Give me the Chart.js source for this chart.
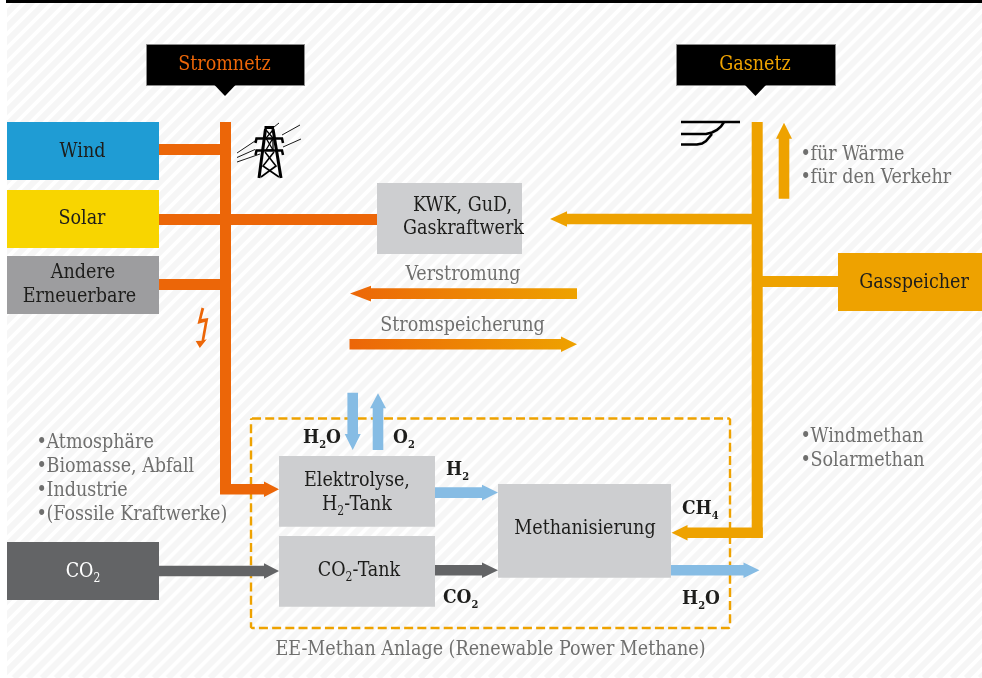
<!DOCTYPE html>
<html><head><meta charset="utf-8">
<style>html,body{margin:0;padding:0;background:#fff}canvas{display:block}</style>
<script src="https://cdn.jsdelivr.net/npm/chart.js@4"></script>
</head><body><canvas id="c" width="982" height="678"></canvas>
<script>
// Diagram values, in axis units of a 982 x 678 drawing plane
const sources = ['Wind','Solar','Andere','Erneuerbare','CO'];
const networks = ['Stromnetz','Gasnetz'];
const plant = ['KWK, GuD,','Gaskraftwerk','Verstromung','Stromspeicherung','Gasspeicher','Elektrolyse,','Methanisierung'];
const bulletsLeft = ['Atmosphäre','Biomasse, Abfall','Industrie','(Fossile Kraftwerke)'];
const bulletsGasUse = ['für Wärme','für den Verkehr'];
const bulletsMethane = ['Windmethan','Solarmethan'];
const plantCaption = 'EE-Methan Anlage (Renewable Power Methane)';

const ORANGE='#ec6608', AMBER='#eea200', BLUE='#86bce4', DARK='#636466', LIGHT='#cdced0';
const shapes=[];
function poly(pts,color,extra){shapes.push(Object.assign({data:pts.map(p=>({x:p[0],y:p[1]})),showLine:true,fill:'shape',backgroundColor:color,borderWidth:0,borderColor:'rgba(0,0,0,0)',pointRadius:0,tension:0,clip:false},extra||{}));}
function rect(a,b,c,d,color,extra){poly([[a,b],[c,b],[c,d],[a,d],[a,b]],color,extra);}
function stroke(pts,color,w,extra){shapes.push(Object.assign({data:pts.map(p=>({x:p[0],y:p[1]})),showLine:true,fill:false,borderColor:color,borderWidth:w,pointRadius:0,tension:0,clip:false,borderCapStyle:'butt',borderJoinStyle:'miter'},extra||{}));}
function arrowH(x0,x1,yc,headLen,color,halfS,halfH){const d=x1>x0?1:-1,b=x1-d*headLen;halfS=halfS||5.3;halfH=halfH||7.8;
 poly([[x0,yc-halfS],[b,yc-halfS],[b,yc-halfH],[x1,yc],[b,yc+halfH],[b,yc+halfS],[x0,yc+halfS],[x0,yc-halfS]],color);}
function arrowV(xc,y0,y1,headLen,color){const d=y1>y0?1:-1,b=y1-d*headLen,s=5.3,h=8;
 poly([[xc-s,y0],[xc+s,y0],[xc+s,b],[xc+h,b],[xc,y1],[xc-h,b],[xc-s,b],[xc-s,y0]],color);}
function gradH(a,b,c0,c1){return c=>{const g=c.chart.ctx.createLinearGradient(a,0,b,0);g.addColorStop(0,c0);g.addColorStop(1,c1);return g;};}

// top rule
rect(6,0,982,3,'#000');
// callouts
rect(146.5,44.5,304.5,85.5,'#000',{borderWidth:1,borderColor:'#8a8a8a'});
poly([[214.5,85],[235.5,85],[225,96],[214.5,85]],'#000');
rect(676.5,44.5,835.5,85.5,'#000',{borderWidth:1,borderColor:'#8a8a8a'});
poly([[745,85],[766,85],[755.5,96],[745,85]],'#000');
// dashed plant outline
stroke([[252,418.5],[729,418.5],[730,419.5],[730,627],[729,628],[252,628],[251,627],[251,419.5],[252,418.5]],AMBER,2.4,{borderDash:[9,4.2],borderJoinStyle:'round'});
// source boxes
rect(7,122,159,180,'#1f9cd4');
rect(7,190,159,248,'#f8d500');
rect(7,256,159,314,'#9d9d9f');
rect(7,542,159,600,DARK);
// orange grid
rect(220,122,231,490,ORANGE);
arrowH(220,279,489.2,15,ORANGE);
rect(159,144,220,155,ORANGE);
rect(159,214,377,225,ORANGE);
rect(159,279,220,290,ORANGE);
// gas grid
rect(751.7,122,762.7,538,AMBER);
arrowH(752,550,219,17,AMBER);
rect(762,276,838,287,AMBER);
arrowH(762.7,671.5,532.7,16,AMBER);
arrowV(784,198.7,122.7,16,AMBER);
// boxes
rect(377,183,522,254,LIGHT);
rect(838,253,982,311,AMBER);
rect(279,456,435,526.7,LIGHT);
rect(279,536,435,606.7,LIGHT);
rect(498,484,671,577.7,LIGHT);
// gradient arrows
arrowH(577,350,293.6,21,gradH(350,577,ORANGE,AMBER));
arrowH(349.5,577,344.3,16,gradH(350,577,ORANGE,AMBER));
// water, gases
arrowV(352.7,392.7,450,16,BLUE);
arrowV(378,450,393.3,15,BLUE);
arrowH(435,498,492.6,16,BLUE);
arrowH(435,498,570.3,16,DARK);
arrowH(159,279,571,15,DARK);
arrowH(671,759.5,570.3,16,BLUE);
// bolt
poly([[201.5,307.5],[204.2,308.5],[201.5,319],[208.3,318],[204.3,340],[206.8,339.3],[199.8,348],[195.7,341],[201.5,340.8],[204.8,322],[197.5,324],[201.5,307.5]],ORANGE);
// pylon
const K='#000';
stroke([[259,178],[265.5,129]],K,3);stroke([[281,178],[273,129]],K,3);
stroke([[264.5,127.5],[274,127.5]],K,3);
stroke([[255.5,143],[256.5,138.5],[282,138.5],[283,143]],K,2.5);
stroke([[255.5,155],[256.5,150.5],[282,150.5],[283,155]],K,2.5);
stroke([[266,130],[273,138],[266,150],[273,150],[273,138],[266,130]],K,1.3);
stroke([[273,130],[266,138],[273,150]],K,1.3);
stroke([[265,152],[276,166],[261,177]],K,1.6);stroke([[274,152],[263,166],[279,177]],K,1.6);
stroke([[237,153],[255,141]],K,.9);stroke([[237,157.5],[255,149.5]],K,.9);stroke([[237,162],[260,154]],K,.9);
stroke([[282,135],[300,125]],K,.9);stroke([[283,147],[301,139]],K,.9);stroke([[274,127],[279,123]],K,.9);
// pipeline junction
stroke([[681,122],[740,122]],K,2.6);
stroke([[681,134],[706,134],[712,132.5],[717,130],[721,126.5],[724,122]],K,2.6);
stroke([[681,144.5],[697,144.5],[702,143.5],[706,141],[709,137.5],[712,134]],K,2.6);

shapes.forEach((s,i)=>{s.order=-i;});

const SERIF='"DejaVu Serif Condensed","DejaVu Serif",serif';
const INK='#1d1d1b', GREY='#6f6f6e';
const labels=[];
const S=19.5, B=19;
function T(runs,x,y,size,color,align,weight){labels.push({runs:Array.isArray(runs)?runs:[[runs,0]],x,y:y+0.8,size,color,align:align||'center',weight:weight||'normal'});}
T(networks[0],224.5,64,S,ORANGE);T(networks[1],755,64,S,AMBER);
T(sources[0],82.5,151,S,INK);T(sources[1],82,218,S,INK);
T(sources[2],83,272,S,INK);T(sources[3],79.5,296,S,INK);
T([[sources[4],0],['2',1]],83,571,S,'#fff');
T(plant[0],462.5,205.5,S,INK);T(plant[1],463.5,228.5,S,INK);
T(plant[2],463,274,S,GREY);T(plant[3],462.5,325,S,GREY);
T(plant[4],914,282.5,S,INK,'center');
T(plant[5],357,480,S,INK);T([['H',0],['2',1],['-Tank',0]],357,504,S,INK);
T([['CO',0],['2',1],['-Tank',0]],359,570,S,INK);
T(plant[6],585,528,S,INK);
T([['H',0],['2',1],['O',0]],303,437,B,INK,'left','bold');
T([['O',0],['2',1]],393,437,B,INK,'left','bold');
T([['H',0],['2',1]],446,469,B,INK,'left','bold');
T([['CO',0],['2',1]],443,597,B,INK,'left','bold');
T([['CH',0],['4',1]],682,508,B,INK,'left','bold');
T([['H',0],['2',1],['O',0]],682,598,B,INK,'left','bold');
T(plantCaption,490.5,649.5,S,GREY);
function bullets(list,x,y0,step){list.forEach((t,i)=>{T('•',x,y0+i*step,S,GREY,'left');T(t,x+10,y0+i*step,S,GREY,'left');});}
bullets(bulletsLeft,36.5,442,24);
bullets(bulletsGasUse,800.5,154,23.5);
bullets(bulletsMethane,800.5,436,24);

const hatch={id:'hatch',beforeDraw(chart){const {ctx}=chart,xs=chart.scales.x,ys=chart.scales.y;
 const x0=xs.getPixelForValue(7),y0=ys.getPixelForValue(3),x1=xs.getPixelForValue(982),y1=ys.getPixelForValue(678);
 ctx.save();ctx.beginPath();ctx.rect(x0,y0,x1-x0,y1-y0);ctx.clip();ctx.fillStyle='#fff';ctx.fillRect(0,0,982,678);
 ctx.strokeStyle='#f6f6f6';ctx.lineWidth=6;const p=14;
 for(let k=-700;k<1700;k+=p){ctx.beginPath();ctx.moveTo(k,678);ctx.lineTo(k+678,0);ctx.stroke();}
 ctx.restore();}};
const text={id:'text',afterDraw(chart){const {ctx}=chart,xs=chart.scales.x,ys=chart.scales.y;ctx.save();ctx.textBaseline='middle';ctx.textAlign='left';
 labels.forEach(l=>{const main=`${l.weight} ${l.size}px ${SERIF}`,sub=`${l.weight} ${Math.round(l.size*.6)}px ${SERIF}`;
  let w=0;l.runs.forEach(r=>{ctx.font=r[1]?sub:main;w+=ctx.measureText(r[0]).width;});
  let x=xs.getPixelForValue(l.x);const y=ys.getPixelForValue(l.y);if(l.align==='center')x-=w/2;
  ctx.fillStyle=l.color;l.runs.forEach(r=>{ctx.font=r[1]?sub:main;ctx.fillText(r[0],x,r[1]?y+7:y);x+=ctx.measureText(r[0]).width;});});
 ctx.restore();}};
new Chart(document.getElementById('c'),{type:'scatter',data:{datasets:shapes},plugins:[hatch,text],
 options:{responsive:false,animation:false,events:[],layout:{padding:0},
 plugins:{legend:{display:false},tooltip:{enabled:false}},
 scales:{x:{type:'linear',min:0,max:982,display:false},y:{type:'linear',min:0,max:678,reverse:true,display:false}}}});
</script></body></html>
